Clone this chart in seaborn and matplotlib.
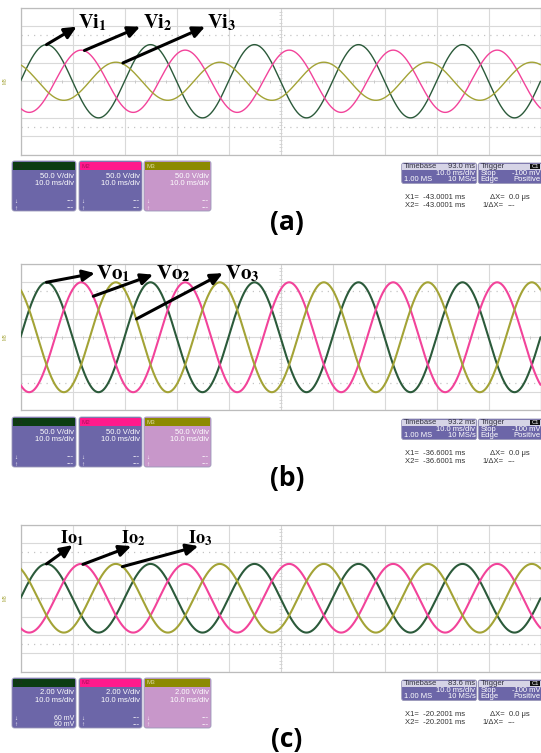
import numpy as np
import pandas as pd
import matplotlib
matplotlib.use("Agg")
import matplotlib.pyplot as plt
import seaborn as sns
from matplotlib.patches import FancyBboxPatch, Rectangle

sns.set_theme(style="white")
plt.rcParams["font.family"] = ["Liberation Sans", "DejaVu Sans"]
plt.rcParams["mathtext.fontset"] = "stix"

W, H, DPI = 541, 753, 100

# ---------------- data ----------------
channels = ["M1", "M2", "M3"]
channel_colors = ["#2b5a3a", "#f2439a", "#a3a336"]
phase_shift_deg = [0, -120, -240]          # three-phase displacement
line_freq_hz = 50.0
time_span_ms = [0.0, 100.0]                 # 10 div x 10 ms/div
vi_amplitude_v = [100.0, 85.0, 52.0]        # (a) unbalanced input voltages
vo_amplitude_v = [150.0, 150.0, 150.0]      # (b) output voltages
io_amplitude = [3.75, 3.75, 3.75]           # (c) output currents
volts_per_div = [50.0, 50.0, 2.0]
ch_scale_text = ["50.0 V/div", "50.0 V/div", "2.00 V/div"]
timebase_text = ["93.0 ms", "93.2 ms", "83.6 ms"]
cursor_text = ["-43.0001 ms", "-36.6001 ms", "-20.2001 ms"]
m1_level_text = ["---", "---", "60 mV"]
panel_titles = ["(a)", "(b)", "(c)"]
trace_names = [["Vi", "Vi", "Vi"], ["Vo", "Vo", "Vo"], ["Io", "Io", "Io"]]

# annotation positions in data units (ms, value): tail on trace, arrow head, label anchor
ann_tail = [[(5.0, 100), (12.3, 84), (19.7, 50)],
            [(5.0, 150), (14.0, 112), (22.3, 50)],
            [(5.0, 3.75), (12.0, 3.7), (19.6, 3.45)]]
ann_head = [[(10.8, 149), (23.0, 149), (35.5, 149)],
            [(14.3, 175), (25.5, 171), (38.9, 175)],
            [(10.0, 5.8), (21.3, 5.7), (34.2, 5.7)]]
ann_text = [[(11.0, 145), (23.6, 145), (35.8, 145)],
            [(14.6, 157), (26.0, 157), (39.4, 157)],
            [(7.6, 6.0), (19.3, 6.0), (32.2, 6.0)]]
amplitudes = [vi_amplitude_v, vo_amplitude_v, io_amplitude]

# ---------------- layout (pixels) ----------------
panel_off = [0, 256, 517]
plot_top, plot_bot = 8.0, 154.5
plot_left, plot_right = 20.5, 540.5
line_w = [1.0, 1.5, 1.5]
label_fs = [14.5, 15, 13]

fig = plt.figure(figsize=(W / DPI, H / DPI), dpi=DPI)
fig.patch.set_facecolor("white")


def px_rect(x0, y0, x1, y1):
    return [x0 / W, 1 - y1 / H, (x1 - x0) / W, (y1 - y0) / H]


ov = fig.add_axes([0, 0, 1, 1])
ov.set_xlim(0, W)
ov.set_ylim(H, 0)
ov.axis("off")

grid_col = "#d9d9d9"

for i in range(3):
    off = panel_off[i]
    vd = volts_per_div[i]
    ax = fig.add_axes(px_rect(plot_left, plot_top + off, plot_right, plot_bot + off))
    t = np.linspace(time_span_ms[0], time_span_ms[1], 1600)
    frames = []
    for ch, A, ph in zip(channels, amplitudes[i], phase_shift_deg):
        v = A * np.sin(2 * np.pi * line_freq_hz * t / 1000.0 + np.deg2rad(ph))
        frames.append(pd.DataFrame({"t": t, "v": v, "ch": ch}))
    df = pd.concat(frames, ignore_index=True)
    sns.lineplot(data=df, x="t", y="v", hue="ch", palette=dict(zip(channels, channel_colors)),
                 linewidth=line_w[i], ax=ax, legend=False, estimator=None, sort=False, zorder=3)
    ax.set_xlim(*time_span_ms)
    ax.set_ylim(-4 * vd, 4 * vd)
    ax.set_xticks(np.arange(0, 101, 10))
    ax.set_yticks(np.arange(-4, 5) * vd)
    ax.tick_params(length=0, labelbottom=False, labelleft=False)
    ax.set_xlabel("")
    ax.set_ylabel("")
    ax.grid(True, color=grid_col, lw=0.8, zorder=0)
    ax.set_axisbelow(True)
    for s in ax.spines.values():
        s.set_color("#bcbcbc")
        s.set_linewidth(0.9)
    # dotted reference lines at +/-2.5 div
    for yy in (2.5 * vd, -2.5 * vd):
        ax.axhline(yy, color="#c4c4c4", lw=0.9, ls=(0, (1, 4)), zorder=1)
    # minor ticks on the center lines
    xs = np.arange(0, 100.1, 2)
    ax.vlines(xs, -0.07 * vd, 0.07 * vd, color="#c9c9c9", lw=0.7, zorder=1)
    ys = np.arange(-4, 4.01, 0.2) * vd
    ax.hlines(ys, 50 - 0.3, 50 + 0.3, color="#d0d0d0", lw=0.6, zorder=1)
    ax.axvline(50, color="#d2d2d2", lw=0.7, ls=(0, (2, 1.5)), zorder=1)

    # annotations
    for k in range(3):
        ax.annotate("", xy=ann_head[i][k], xytext=ann_tail[i][k],
                    arrowprops=dict(arrowstyle="-|>,head_length=0.6,head_width=0.28",
                                    color="black", lw=2.2, shrinkA=0, shrinkB=0),
                    annotation_clip=False, zorder=5)
        name = trace_names[i][k]
        ax.text(ann_text[i][k][0], ann_text[i][k][1],
                r"$\mathbf{%s}_{\mathbf{%d}}$" % (name, k + 1),
                fontsize=label_fs[i], ha="left", va="baseline", color="black",
                clip_on=False, zorder=6)

    # ground marker on left
    ov.text(5, 81 + off, "M3", fontsize=3.5, color="#a3a336", rotation=90,
            ha="center", va="center")

    # ------------- channel info boxes -------------
    bx = [(12, 64), (79, 63), (144, 67)]
    bodies = ["#6c66a8", "#6c66a8", "#c897ca"]
    heads = ["#0c3d12", "#ff1a8c", "#8c8a00"]
    namecols = ["#1f2f1f", "#b0105e", "#d8d8a0"]
    y0 = 161 + off
    for j in range(3):
        x0, w = bx[j]
        ov.add_patch(FancyBboxPatch((x0, y0), w, 50, boxstyle="round,pad=0,rounding_size=2.5",
                                    fc=bodies[j], ec="#9a98b8", lw=0.6))
        ov.add_patch(Rectangle((x0 + 0.8, y0 + 0.8), w - 1.6, 8, fc=heads[j], ec="none"))
        ov.text(x0 + 2.5, y0 + 5, channels[j], fontsize=4.5, color=namecols[j],
                ha="left", va="center")
        ov.text(x0 + w - 1.8, y0 + 15, ch_scale_text[i], fontsize=5.5, color="white",
                ha="right", va="center")
        ov.text(x0 + w - 1.8, y0 + 22, "10.0 ms/div", fontsize=5.5, color="white",
                ha="right", va="center")
        lvl = m1_level_text[i] if j == 0 else "---"
        ov.text(x0 + 2.5, y0 + 40, "↓", fontsize=4.5, color="white", ha="left", va="center")
        ov.text(x0 + 2.5, y0 + 47, "↑", fontsize=4.5, color="white", ha="left", va="center")
        ov.text(x0 + w - 1.8, y0 + 40, lvl, fontsize=5, color="white", ha="right", va="center")
        ov.text(x0 + w - 1.8, y0 + 47, lvl, fontsize=5, color="white", ha="right", va="center")

    # ------------- timebase / trigger boxes -------------
    ty = 163 + off
    for (x0, w) in [(401.7, 75.0), (478.3, 70.0)]:
        ov.add_patch(FancyBboxPatch((x0, ty), w, 20.5, boxstyle="round,pad=0,rounding_size=2",
                                    fc="#6c66a8", ec="#9a98b8", lw=0.6))
        ov.add_patch(Rectangle((x0 + 0.7, ty + 0.7), w - 1.4, 5.8, fc="#d6d4e6", ec="none"))
    ov.text(403.5, ty + 3.6, "Timebase", fontsize=5.5, color="#303040", ha="left", va="center")
    ov.text(475.5, ty + 3.6, timebase_text[i], fontsize=5.5, color="#303040", ha="right", va="center")
    ov.text(475.5, ty + 10.2, "10.0 ms/div", fontsize=5.5, color="white", ha="right", va="center")
    ov.text(403.5, ty + 16.7, "1.00 MS", fontsize=5.5, color="white", ha="left", va="center")
    ov.text(475.5, ty + 16.7, "10 MS/s", fontsize=5.5, color="white", ha="right", va="center")
    ov.text(480.3, ty + 3.6, "Trigger", fontsize=5.5, color="#303040", ha="left", va="center")
    ov.add_patch(Rectangle((530, ty + 0.9), 10, 5.2, fc="#111111", ec="none"))
    ov.text(535, ty + 3.6, "C1", fontsize=4.2, color="white", ha="center", va="center")
    ov.text(480.3, ty + 10.2, "Stop", fontsize=5.5, color="white", ha="left", va="center")
    ov.text(540, ty + 10.2, "-100 mV", fontsize=5.5, color="white", ha="right", va="center")
    ov.text(480.3, ty + 16.7, "Edge", fontsize=5.5, color="white", ha="left", va="center")
    ov.text(540, ty + 16.7, "Positive", fontsize=5.5, color="white", ha="right", va="center")
    # cursor readouts
    cy1, cy2 = 197.3 + off, 205.7 + off
    ov.text(405, cy1, "X1=  " + cursor_text[i], fontsize=5.5, color="#333333", ha="left", va="center")
    ov.text(405, cy2, "X2=  " + cursor_text[i], fontsize=5.5, color="#333333", ha="left", va="center")
    ov.text(490, cy1, "ΔX=  0.0 μs", fontsize=5.5, color="#333333", ha="left", va="center")
    ov.text(482.7, cy2, "1/ΔX=", fontsize=5.5, color="#333333", ha="left", va="center")
    ov.text(508, cy2, "---", fontsize=5.5, color="#333333", ha="left", va="center")

    # panel title
    ov.text(287, 222 + off, panel_titles[i], fontsize=19, fontweight="bold",
            family=["Open Sans", "DejaVu Sans"], color="black", ha="center", va="center")

fig.savefig("out.png", dpi=DPI, facecolor="white")
